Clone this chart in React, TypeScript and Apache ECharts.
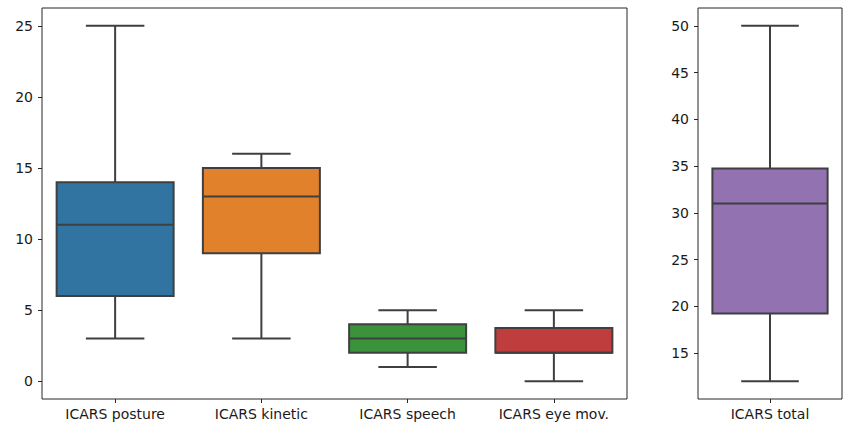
import React, { useEffect, useRef } from "react";
import * as echarts from "echarts";

// Sub-scores (left panel)
const subscaleNames = ["ICARS posture", "ICARS kinetic", "ICARS speech", "ICARS eye mov."];
const subscaleMin = [3, 3, 1, 0];
const subscaleQ1 = [6, 9, 2, 2];
const subscaleMedian = [11, 13, 3, 2];
const subscaleQ3 = [14, 15, 4, 3.75];
const subscaleMax = [25, 16, 5, 5];
const subscaleColors = ["#3274a1", "#e1812c", "#3a923a", "#c03d3e"];
const subscaleTicks = [0, 5, 10, 15, 20, 25];

// Total score (right panel)
const totalNames = ["ICARS total"];
const totalMin = [12];
const totalQ1 = [19.25];
const totalMedian = [31];
const totalQ3 = [34.75];
const totalMax = [50];
const totalColors = ["#9372b2"];
const totalTicks = [15, 20, 25, 30, 35, 40, 45, 50];

const EDGE = "#3f3f3f";
const FRAME = "#262626";
const FONT = "DejaVu Sans";

function boxRows(mins: number[], q1: number[], med: number[], q3: number[], maxs: number[]) {
  return mins.map((m, i) => [i, m, q1[i], med[i], q3[i], maxs[i]]);
}

// Seaborn-like box: body 80% of the band, whisker caps at half the body width.
function makeRenderer(colors: string[]) {
  return (params: any, api: any) => {
    const i = api.value(0);
    const pMin = api.coord([i, api.value(1)]);
    const pQ1 = api.coord([i, api.value(2)]);
    const pMed = api.coord([i, api.value(3)]);
    const pQ3 = api.coord([i, api.value(4)]);
    const pMax = api.coord([i, api.value(5)]);
    const band = api.size([1, 0])[0];
    const bw = band * 0.8;
    const cw = band * 0.4;
    const x = pMin[0];
    const ls = { stroke: EDGE, lineWidth: 2 };
    return {
      type: "group",
      children: [
        { type: "line", shape: { x1: x, y1: pMax[1], x2: x, y2: pQ3[1] }, style: ls },
        { type: "line", shape: { x1: x, y1: pQ1[1], x2: x, y2: pMin[1] }, style: ls },
        { type: "line", shape: { x1: x - cw / 2, y1: pMax[1], x2: x + cw / 2, y2: pMax[1] }, style: ls },
        { type: "line", shape: { x1: x - cw / 2, y1: pMin[1], x2: x + cw / 2, y2: pMin[1] }, style: ls },
        {
          type: "rect",
          shape: { x: x - bw / 2, y: pQ3[1], width: bw, height: pQ1[1] - pQ3[1] },
          style: { fill: colors[i], stroke: EDGE, lineWidth: 2 },
        },
        { type: "line", shape: { x1: x - bw / 2, y1: pMed[1], x2: x + bw / 2, y2: pMed[1] }, style: ls },
      ],
    };
  };
}

const axisText = { color: "#1a1a1a", fontFamily: FONT, fontSize: 14 };

function categoryAxis(gridIndex: number, names: string[]) {
  return {
    type: "category",
    gridIndex,
    data: names,
    axisLine: { show: false, onZero: false },
    axisTick: { show: true, alignWithLabel: true, length: 4, lineStyle: { color: FRAME } },
    axisLabel: { ...axisText, margin: 8 },
  };
}

function valueAxis(gridIndex: number, min: number, max: number, ticks: number[]) {
  return {
    type: "value",
    gridIndex,
    min,
    max,
    splitLine: { show: false },
    axisLine: { show: false, onZero: false },
    axisTick: { show: true, length: 4, lineStyle: { color: FRAME }, customValues: ticks },
    axisLabel: { ...axisText, margin: 9, customValues: ticks },
  };
}

export default function App() {
  const ref = useRef<HTMLDivElement>(null);

  useEffect(() => {
    if (!ref.current) return;
    const chart = echarts.init(ref.current, undefined, { renderer: "svg" });
    chart.setOption({
      animation: false,
      backgroundColor: "#ffffff",
      grid: [
        { left: 42, top: 8, width: 585, height: 391, show: true, borderColor: FRAME, borderWidth: 1, backgroundColor: "transparent" },
        { left: 698, top: 8, width: 144, height: 391, show: true, borderColor: FRAME, borderWidth: 1, backgroundColor: "transparent" },
      ],
      xAxis: [categoryAxis(0, subscaleNames), categoryAxis(1, totalNames)],
      yAxis: [
        valueAxis(0, -1.25, 26.25, subscaleTicks),
        valueAxis(1, 10.1, 51.9, totalTicks),
      ],
      series: [
        {
          type: "custom",
          xAxisIndex: 0,
          yAxisIndex: 0,
          clip: false,
          encode: { x: 0, y: [1, 2, 3, 4, 5] },
          data: boxRows(subscaleMin, subscaleQ1, subscaleMedian, subscaleQ3, subscaleMax),
          renderItem: makeRenderer(subscaleColors),
        },
        {
          type: "custom",
          xAxisIndex: 1,
          yAxisIndex: 1,
          clip: false,
          encode: { x: 0, y: [1, 2, 3, 4, 5] },
          data: boxRows(totalMin, totalQ1, totalMedian, totalQ3, totalMax),
          renderItem: makeRenderer(totalColors),
        },
      ],
    });
    return () => chart.dispose();
  }, []);

  return (
    <div
      ref={ref}
      style={{ position: "fixed", left: 0, top: 0, width: 846, height: 427 }}
    />
  );
}
